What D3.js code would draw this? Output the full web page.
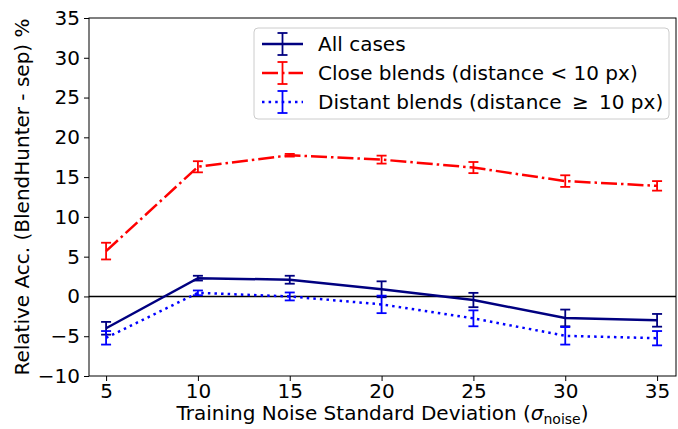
<!DOCTYPE html>
<html><head><meta charset="utf-8">
<script src="https://cdn.jsdelivr.net/npm/d3@7"></script>
<style>body{margin:0;background:#fff}svg{display:block;font-family:"DejaVu Sans",sans-serif}</style>
</head><body><svg id="c" width="678" height="429"></svg>
<script>
const noise = [5, 10, 15, 20, 25, 30, 35];
const allCases = [-4.0, 2.3, 2.1, 0.9, -0.45, -2.7, -3.0];
const allErr   = [0.8, 0.3, 0.5, 1.0, 0.9, 1.05, 0.8];
const closeBl  = [5.7, 16.3, 17.75, 17.2, 16.2, 14.5, 13.9];
const closeErr = [1.05, 0.7, 0.17, 0.5, 0.7, 0.73, 0.6];
const distBl   = [-5.2, 0.45, 0.0, -1.0, -2.75, -4.95, -5.25];
const distErr  = [0.85, 0.3, 0.5, 1.1, 1.0, 1.1, 0.9];
const yTicks = [-10, -5, 0, 5, 10, 15, 20, 25, 30, 35];
const xTicks = [5, 10, 15, 20, 25, 30, 35];
const labels = ["All cases", "Close blends (distance < 10 px)", "Distant blends (distance \u2009\u2265\u2009 10 px)"];

const svg = d3.select("#c");
const L = 89, R = 676, T = 18, B = 376;
const FS = 20;
const x = d3.scaleLinear().domain([4.07, 36.03]).range([L, R]);
const y = d3.scaleLinear().domain([-10, 35]).range([B, T]);
const fmt = d => d < 0 ? "\u2212" + Math.abs(d) : String(d);

const series = [
  {vals: allCases, err: allErr, color: "#000080", dash: null},
  {vals: closeBl, err: closeErr, color: "#ff0000", dash: "16,4,2.5,4"},
  {vals: distBl, err: distErr, color: "#0000ff", dash: "2.5,4.1"}
];

// zero line
svg.append("line").attr("x1", L).attr("x2", R).attr("y1", y(0)).attr("y2", y(0))
  .attr("stroke", "#000").attr("stroke-width", 1.5);

const line = d3.line().x((d, i) => x(noise[i])).y(d => y(d));
series.forEach(s => {
  svg.append("path").datum(s.vals).attr("d", line).attr("fill", "none")
    .attr("stroke", s.color).attr("stroke-width", 2.5)
    .attr("stroke-dasharray", s.dash);
  const g = svg.append("g").attr("stroke", s.color).attr("stroke-width", 1.8);
  s.vals.forEach((v, i) => {
    const cx = x(noise[i]), y1 = y(v - s.err[i]), y2 = y(v + s.err[i]);
    g.append("line").attr("x1", cx).attr("x2", cx).attr("y1", y1).attr("y2", y2);
    g.append("line").attr("x1", cx - 5).attr("x2", cx + 5).attr("y1", y1).attr("y2", y1);
    g.append("line").attr("x1", cx - 5).attr("x2", cx + 5).attr("y1", y2).attr("y2", y2);
  });
});

// axes
const xa = svg.append("g").attr("transform", `translate(0,${B})`)
  .call(d3.axisBottom(x).tickValues(xTicks).tickSize(5).tickPadding(3));
const ya = svg.append("g").attr("transform", `translate(${L},0)`)
  .call(d3.axisLeft(y).tickValues(yTicks).tickFormat(fmt).tickSize(5).tickPadding(4));
[xa, ya].forEach(a => {
  a.select(".domain").remove();
  a.selectAll("text").attr("font-size", FS).attr("font-family", "DejaVu Sans").attr("fill", "#000");
  a.selectAll("line").attr("stroke", "#000").attr("stroke-width", 1);
});
svg.append("rect").attr("x", L).attr("y", T).attr("width", R - L).attr("height", B - T)
  .attr("fill", "none").attr("stroke", "#000").attr("stroke-width", 1);

// labels
const xl = svg.append("text").attr("x", (L + R) / 2).attr("y", 420).attr("text-anchor", "middle")
  .attr("font-size", FS);
xl.append("tspan").text("Training Noise Standard Deviation (");
xl.append("tspan").attr("font-style", "italic").text("\u03c3");
xl.append("tspan").attr("font-size", 14).attr("dy", 4).text("noise");
xl.append("tspan").attr("dy", -4).text(")");
svg.append("text").attr("transform", `translate(29,${(T + B) / 2}) rotate(-90)`)
  .attr("text-anchor", "middle").attr("font-size", FS).text("Relative Acc. (BlendHunter - sep) %");

// legend
const lg = svg.append("g");
lg.append("rect").attr("x", 254).attr("y", 28).attr("width", 415).attr("height", 91).attr("rx", 4)
  .attr("fill", "#fff").attr("fill-opacity", 0.8).attr("stroke", "#ccc").attr("stroke-width", 1);
series.forEach((s, i) => {
  const yy = 44 + i * 29;
  lg.append("line").attr("x1", 262).attr("x2", 303).attr("y1", yy).attr("y2", yy)
    .attr("stroke", s.color).attr("stroke-width", 2.5).attr("stroke-dasharray", s.dash);
  lg.append("line").attr("x1", 282.5).attr("x2", 282.5).attr("y1", yy - 11).attr("y2", yy + 11)
    .attr("stroke", s.color).attr("stroke-width", 1.8);
  [yy - 11, yy + 11].forEach(c => lg.append("line").attr("x1", 277.5).attr("x2", 287.5)
    .attr("y1", c).attr("y2", c).attr("stroke", s.color).attr("stroke-width", 1.8));
  lg.append("text").attr("x", 318).attr("y", yy + 7).attr("font-size", FS).text(labels[i]);
});
</script></body></html>
